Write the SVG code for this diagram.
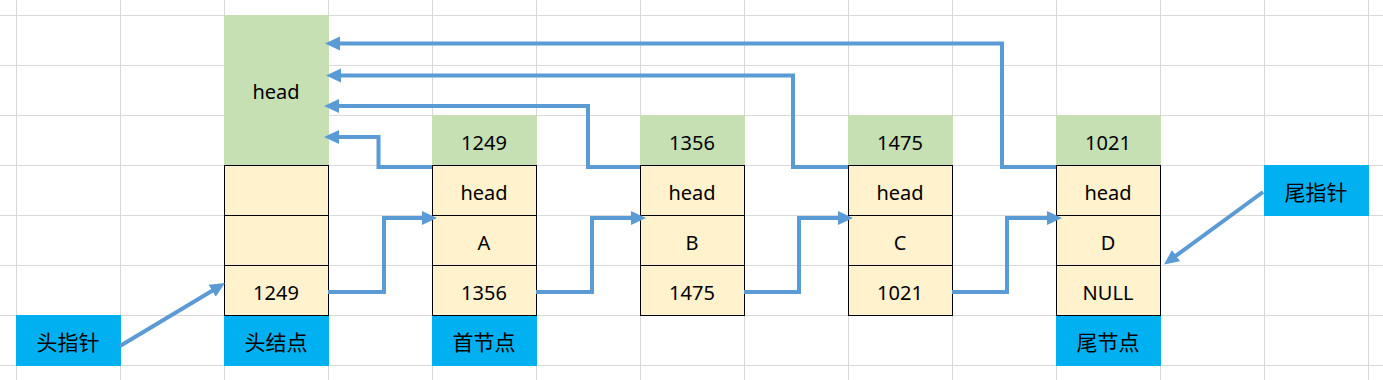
<svg xmlns="http://www.w3.org/2000/svg" width="1383" height="380" viewBox="0 0 1383 380">
<defs>
<style>
.grid line{stroke:#d9d9d9;stroke-width:1}
.g{fill:#c6e0b4}
.y{fill:#fff2cc;stroke:#000;stroke-width:1}
.b{fill:#00b0f0}
text{font-family:"Noto Sans","Noto Sans CJK SC",sans-serif;font-size:20px;fill:#000;text-anchor:middle}
.cn{font-family:"Noto Sans CJK SC","Noto Sans",sans-serif;font-size:21px}
.conn path{fill:none;stroke:#5b9bd5;stroke-width:4;stroke-linejoin:miter}
</style>
<marker id="ah" markerUnits="userSpaceOnUse" markerWidth="16" markerHeight="15" refX="3" refY="7" orient="auto">
<path d="M0,0 L15,7 L0,14 z" fill="#5b9bd5"/>
</marker>
</defs>
<rect width="1383" height="380" fill="#fff"/>
<g class="grid">
<line x1="16.5" y1="0" x2="16.5" y2="380"/><line x1="120.5" y1="0" x2="120.5" y2="380"/><line x1="224.5" y1="0" x2="224.5" y2="380"/><line x1="328.5" y1="0" x2="328.5" y2="380"/><line x1="432.5" y1="0" x2="432.5" y2="380"/><line x1="536.5" y1="0" x2="536.5" y2="380"/><line x1="640.5" y1="0" x2="640.5" y2="380"/><line x1="744.5" y1="0" x2="744.5" y2="380"/><line x1="848.5" y1="0" x2="848.5" y2="380"/><line x1="952.5" y1="0" x2="952.5" y2="380"/><line x1="1056.5" y1="0" x2="1056.5" y2="380"/><line x1="1160.5" y1="0" x2="1160.5" y2="380"/><line x1="1264.5" y1="0" x2="1264.5" y2="380"/><line x1="1368.5" y1="0" x2="1368.5" y2="380"/>
<line x1="0" y1="15.5" x2="1383" y2="15.5"/><line x1="0" y1="65.5" x2="1383" y2="65.5"/><line x1="0" y1="115.5" x2="1383" y2="115.5"/><line x1="0" y1="165.5" x2="1383" y2="165.5"/><line x1="0" y1="215.5" x2="1383" y2="215.5"/><line x1="0" y1="265.5" x2="1383" y2="265.5"/><line x1="0" y1="315.5" x2="1383" y2="315.5"/><line x1="0" y1="365.5" x2="1383" y2="365.5"/>
</g>
<g id="head-pointer">
<rect class="b" x="16" y="315" width="105" height="51"/>
<text class="cn" x="68" y="350">头指针</text>
</g>
<g id="tail-pointer">
<rect class="b" x="1264" y="165" width="105" height="51"/>
<text class="cn" x="1316" y="200">尾指针</text>
</g>
<g id="head-node">
<rect class="g" x="224" y="15" width="105" height="150"/>
<text x="276" y="99">head</text>
<rect class="y" x="224.5" y="165.5" width="104" height="50"/>
<rect class="y" x="224.5" y="215.5" width="104" height="50"/>
<rect class="y" x="224.5" y="265.5" width="104" height="50"/>
<text x="276" y="300">1249</text>
<rect class="b" x="224" y="316" width="105" height="50"/>
<text class="cn" x="276" y="350">头结点</text>
</g>
<g id="node-a">
<rect class="g" x="432" y="115" width="105" height="50"/>
<text x="484" y="150">1249</text>
<rect class="y" x="432.5" y="165.5" width="104" height="50"/>
<text x="484" y="200">head</text>
<rect class="y" x="432.5" y="215.5" width="104" height="50"/>
<text x="484" y="250">A</text>
<rect class="y" x="432.5" y="265.5" width="104" height="50"/>
<text x="484" y="300">1356</text>
<rect class="b" x="432" y="316" width="105" height="50"/>
<text class="cn" x="484" y="350">首节点</text>
</g>
<g id="node-b">
<rect class="g" x="640" y="115" width="105" height="50"/>
<text x="692" y="150">1356</text>
<rect class="y" x="640.5" y="165.5" width="104" height="50"/>
<text x="692" y="200">head</text>
<rect class="y" x="640.5" y="215.5" width="104" height="50"/>
<text x="692" y="250">B</text>
<rect class="y" x="640.5" y="265.5" width="104" height="50"/>
<text x="692" y="300">1475</text>
</g>
<g id="node-c">
<rect class="g" x="848" y="115" width="105" height="50"/>
<text x="900" y="150">1475</text>
<rect class="y" x="848.5" y="165.5" width="104" height="50"/>
<text x="900" y="200">head</text>
<rect class="y" x="848.5" y="215.5" width="104" height="50"/>
<text x="900" y="250">C</text>
<rect class="y" x="848.5" y="265.5" width="104" height="50"/>
<text x="900" y="300">1021</text>
</g>
<g id="node-d">
<rect class="g" x="1056" y="115" width="105" height="50"/>
<text x="1108" y="150">1021</text>
<rect class="y" x="1056.5" y="165.5" width="104" height="50"/>
<text x="1108" y="200">head</text>
<rect class="y" x="1056.5" y="215.5" width="104" height="50"/>
<text x="1108" y="250">D</text>
<rect class="y" x="1056.5" y="265.5" width="104" height="50"/>
<text x="1108" y="300">NULL</text>
<rect class="b" x="1056" y="316" width="105" height="50"/>
<text class="cn" x="1108" y="350">尾节点</text>
</g>
<g class="conn" id="connectors">
<path d="M1056,167 H1002 V43.5 H337" marker-end="url(#ah)"/>
<path d="M848,167 H793 V75.5 H338" marker-end="url(#ah)"/>
<path d="M640,167 H588 V106 H336" marker-end="url(#ah)"/>
<path d="M432,167 H378.5 V137 H336" marker-end="url(#ah)"/>
<path d="M328,292 H384 V218 H425" marker-end="url(#ah)"/>
<path d="M536,292 H592 V218 H634" marker-end="url(#ah)"/>
<path d="M744,292 H799 V218 H841" marker-end="url(#ah)"/>
<path d="M952,292 H1007 V218 H1050" marker-end="url(#ah)"/>
<path d="M120,346 L214.7,289.2" marker-end="url(#ah)"/>
<path d="M1263,192 L1173.7,257.4" marker-end="url(#ah)"/>
</g>
</svg>
